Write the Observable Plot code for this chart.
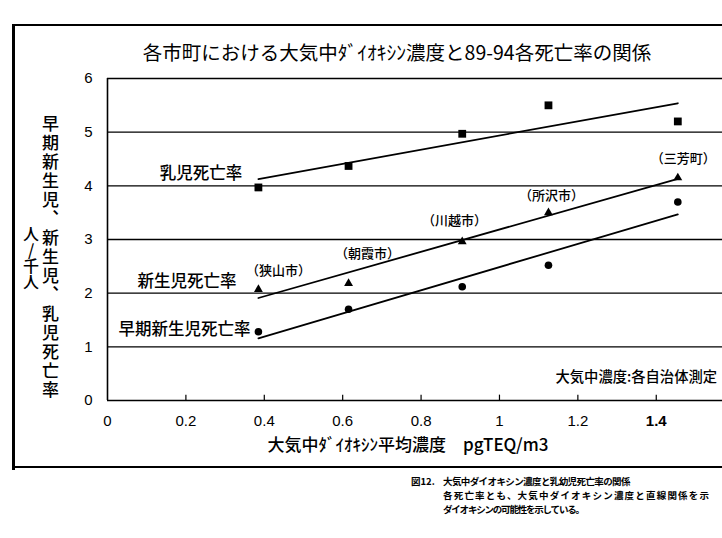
<!DOCTYPE html>
<html>
<head>
<meta charset="utf-8">
<script src="https://cdn.jsdelivr.net/npm/d3@7"></script>
<script src="https://cdn.jsdelivr.net/npm/@observablehq/plot@0.6"></script>
<style>
  html, body { margin: 0; padding: 0; background: #fff; overflow: hidden; }
  #wrap { position: relative; width: 722px; height: 538px; overflow: hidden; background: #fff; color: #000; }
  #chart { position: absolute; left: 0; top: 0; }
  .jp { font-family: "Noto Sans CJK JP", "Noto Sans", sans-serif; position: absolute; white-space: nowrap; color: #000; }
  .line { position: absolute; background: #000; }
</style>
</head>
<body>
<div id="wrap">
  <div class="line" style="left:12px; top:24px; width:710px; height:2px;"></div>
  <div class="line" style="left:12px; top:24px; width:3px; height:446px;"></div>
  <div class="line" style="left:12px; top:466px; width:710px; height:2px;"></div>
  <div id="chart"></div>
  <div class="jp" id="title" style="left:0; width:794px; text-align:center; top:37px; font-size:19.5px; font-weight:400;">各市町における大気中ﾀﾞｲｵｷｼﾝ濃度と89-94各死亡率の関係</div>
  <div class="jp" id="xlabel" style="left:0; width:816px; text-align:center; top:431px; font-size:17px; font-weight:500;">大気中ﾀﾞｲｵｷｼﾝ平均濃度　pgTEQ/m3</div>
  <div class="jp" id="ylabel1" style="left:38px; top:115px; font-size:17px; letter-spacing:2px; writing-mode:vertical-rl; text-orientation:upright; font-weight:500;">早期新生児、新生児、乳児死亡率</div>
  <div class="jp" id="ylabel2" style="left:19px; top:226px; font-size:16px; letter-spacing:0px; writing-mode:vertical-rl; text-orientation:upright; font-weight:500;">人/千人</div>
  <div class="jp" style="left:411px; top:474px; font-size:9.5px; font-weight:700;">図12.</div>
  <div class="jp" style="left:443px; top:474px; font-size:9.5px; font-weight:700; letter-spacing:-0.6px;">大気中ダイオキシン濃度と乳幼児死亡率の関係</div>
  <div class="jp" style="left:443px; top:488px; font-size:9.5px; font-weight:700; letter-spacing:1.2px;">各死亡率とも、大気中ダイオキシン濃度と直線関係を示</div>
  <div class="jp" style="left:443px; top:502px; font-size:9.5px; font-weight:700; letter-spacing:-1.2px;">ダイオキシンの可能性を示している。</div>
</div>
<script>
// ---- data ----
const xTicks = [0, 0.2, 0.4, 0.6, 0.8, 1, 1.2, 1.4];
const yTicks = [0, 1, 2, 3, 4, 5, 6];
const cities = ["（狭山市）", "（朝霞市）", "（川越市）", "（所沢市）", "（三芳町）"];
const conc = [0.385, 0.615, 0.905, 1.125, 1.455];          // 大気中ダイオキシン平均濃度 pgTEQ/m3
const infant = [3.97, 4.37, 4.97, 5.5, 5.2];              // 乳児死亡率
const neonatal = [2.07, 2.18, 2.96, 3.5, 4.15];           // 新生児死亡率
const earlyNeonatal = [1.28, 1.7, 2.12, 2.52, 3.7];       // 早期新生児死亡率
const seriesNames = ["乳児死亡率", "新生児死亡率", "早期新生児死亡率"];
const note = "大気中濃度:各自治体測定";

// annotation anchors (data units)
const cityLabelX = [0.436, 0.663, 0.885, 1.133, 1.469];
const cityLabelY = [2.42, 2.74, 3.35, 3.82, 4.51];
const seriesLabelX = [0.344, 0.329, 0.365];
const seriesLabelY = [4.23, 2.22, 1.32];

const rows = conc.map((x, i) => ({x, infant: infant[i], neonatal: neonatal[i], early: earlyNeonatal[i]}));
const cityRows = cities.map((t, i) => ({t, x: cityLabelX[i], y: cityLabelY[i]}));
const seriesRows = seriesNames.map((t, i) => ({t, x: seriesLabelX[i], y: seriesLabelY[i]}));

const JP = "Noto Sans CJK JP";

const chart = Plot.plot({
  width: 722,
  height: 538,
  marginLeft: 107,
  marginRight: 0,
  marginTop: 78,
  marginBottom: 138,
  x: {domain: [0, 1.569]},
  y: {domain: [0, 6]},
  style: {fontFamily: "Liberation Sans, Arial, sans-serif", fontSize: "15px", background: "transparent", color: "#000", overflow: "visible"},
  marks: [
    Plot.ruleY(yTicks.slice(1), {stroke: "#000", strokeWidth: 1.3}),
    Plot.ruleY([0], {stroke: "#000", strokeWidth: 1.6}),
    Plot.ruleX([0], {stroke: "#000", strokeWidth: 1.6}),
    Plot.ruleX(xTicks.slice(1), {y1: 0, y2: 0.1, stroke: "#000", strokeWidth: 1.2}),
    Plot.axisY(yTicks, {tickSize: 0, tickPadding: 15, label: null, fontSize: 15, tickFormat: d => String(d)}),
    Plot.axisX(xTicks, {tickSize: 0, tickPadding: 15, label: null, fontSize: 15, tickFormat: d => String(Math.round(d * 10) / 10)}),
    Plot.linearRegressionY(rows, {x: "x", y: "infant", ci: 0, stroke: "#000", strokeWidth: 1.8}),
    Plot.linearRegressionY(rows, {x: "x", y: "neonatal", ci: 0, stroke: "#000", strokeWidth: 1.8}),
    Plot.linearRegressionY(rows, {x: "x", y: "early", ci: 0, stroke: "#000", strokeWidth: 1.8}),
    Plot.dot(rows, {x: "x", y: "infant", symbol: "square", r: 4.4, fill: "#000"}),
    Plot.dot(rows, {x: "x", y: "neonatal", symbol: "triangle", r: 3.3, fill: "#000"}),
    Plot.dot(rows, {x: "x", y: "early", symbol: "circle", r: 3.8, fill: "#000"}),
    Plot.text(cityRows, {x: "x", y: "y", text: "t", fontFamily: JP, fontSize: 13, fill: "#000", fontWeight: 500}),
    Plot.text(seriesRows, {x: "x", y: "y", text: "t", textAnchor: "end", fontFamily: JP, fontSize: 16.5, fill: "#000", fontWeight: 500}),
    Plot.text([note], {x: 1.143, y: 0.43, text: d => d, textAnchor: "start", fontFamily: JP, fontSize: 14.3, fill: "#000", fontWeight: 500})
  ]
});
d3.select(chart).selectAll("text").filter(function () { return this.textContent === "1.4"; }).attr("font-weight", "bold");
document.getElementById("chart").appendChild(chart);
</script>
</body>
</html>
